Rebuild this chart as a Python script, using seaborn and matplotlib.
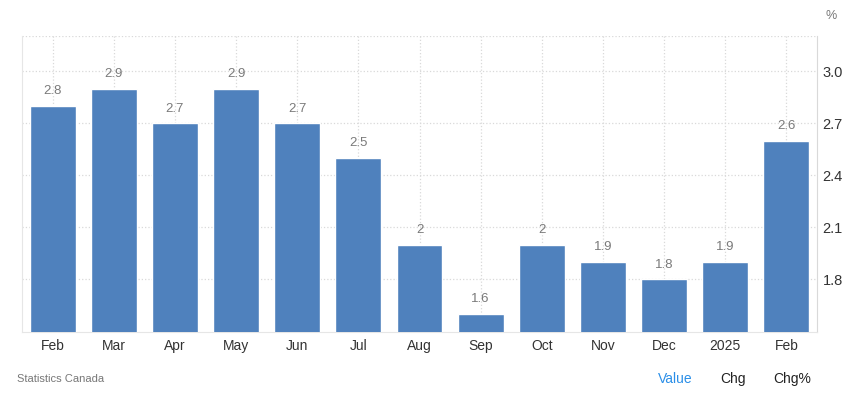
import matplotlib
matplotlib.use('Agg')
import matplotlib.pyplot as plt
import seaborn as sns
import pandas as pd

months = ['Feb', 'Mar', 'Apr', 'May', 'Jun', 'Jul', 'Aug', 'Sep', 'Oct', 'Nov', 'Dec', '2025', 'Feb']
values = [2.8, 2.9, 2.7, 2.9, 2.7, 2.5, 2.0, 1.6, 2.0, 1.9, 1.8, 1.9, 2.6]
labels = ['2.8', '2.9', '2.7', '2.9', '2.7', '2.5', '2', '1.6', '2', '1.9', '1.8', '1.9', '2.6']
yticks = [1.8, 2.1, 2.4, 2.7, 3.0]

sns.set_style('white')
plt.rcParams['font.family'] = ['Liberation Sans', 'DejaVu Sans']

df = pd.DataFrame({'pos': range(len(months)), 'month': months, 'value': values})

fig = plt.figure(figsize=(8.5, 3.97), dpi=100)
ax = fig.add_axes([22 / 850, 1 - 332 / 397, 795 / 850, 296 / 397])

sns.barplot(data=df, x='pos', y='value', color='#4f81bd', saturation=1,
            width=0.75, ax=ax, zorder=3)

ax.set_xlim(-0.5, len(months) - 0.5)
ax.set_ylim(1.495, 3.205)
ax.set_xticks(range(len(months)))
ax.set_xticklabels(months)
ax.set_xlabel('')
ax.set_ylabel('')

# gridlines: dotted, light; top gridline stands in for the frame
ax.yaxis.tick_right()
ax.set_yticks(yticks + [3.205])
ax.set_yticklabels([f'{t:.1f}' for t in yticks] + [''])
ax.grid(True, axis='both', linestyle=':', color='#d9d9d9', linewidth=0.9, zorder=0)
ax.tick_params(axis='x', length=0, labelsize=10, colors='#333333', pad=5)
ax.tick_params(axis='y', length=0, labelsize=10.5, colors='#333333', pad=4)

ax.spines['top'].set_visible(False)
ax.spines['left'].set_color('#e6e6e6')
ax.spines['right'].set_color('#d9d9d9')
ax.spines['bottom'].set_color('#e6e6e6')

for i, (v, lab) in enumerate(zip(values, labels)):
    ax.text(i, v + 0.05, lab, ha='center', va='bottom', fontsize=9.5, color='#7a7a7a')

fig.text(826 / 850, 1 - 16 / 397, '%', ha='left', va='center', fontsize=9, color='#777777')
fig.text(17 / 850, 1 - 379 / 397, 'Statistics Canada', ha='left', va='center', fontsize=8, color='#777777')
fig.text(658 / 850, 1 - 379 / 397, 'Value', ha='left', va='center', fontsize=10, color='#2b8fe8')
fig.text(720 / 850, 1 - 379 / 397, 'Chg', ha='left', va='center', fontsize=10, color='#222222')
fig.text(773 / 850, 1 - 379 / 397, 'Chg%', ha='left', va='center', fontsize=10, color='#222222')

plt.savefig('out.png', dpi=100)
plt.close()
